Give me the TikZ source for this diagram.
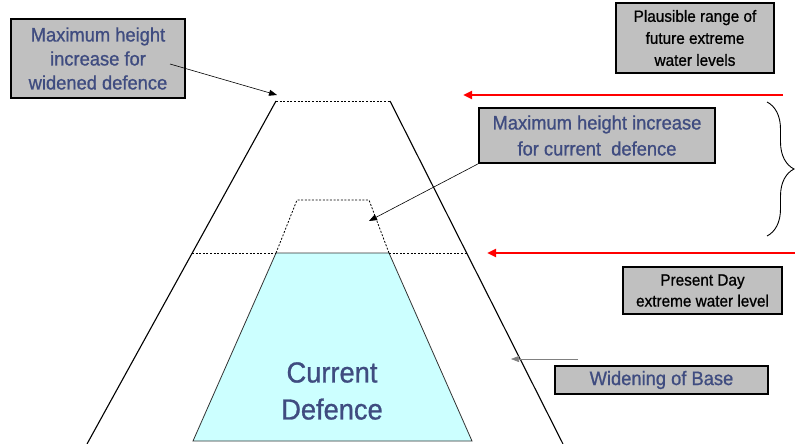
\documentclass[tikz,border=0pt]{standalone}
\usepackage{fontspec}
\setmainfont{Liberation Sans}
\newfontfamily\condfont[FakeStretch=0.94,FakeBold=0.9]{Liberation Sans}
\usetikzlibrary{arrows.meta,decorations.pathreplacing}
\definecolor{txtblue}{HTML}{3F4C80}
\definecolor{boxgray}{HTML}{C0C0C0}
\definecolor{cyanfill}{HTML}{CCFFFF}
\tikzset{
  labelbox/.style={draw=black, line width=1.5pt, fill=boxgray, inner sep=0pt, align=center},
  bluetext/.style={text=txtblue, font=\condfont\fontsize{19.5}{24}\selectfont},
  blacktext/.style={text=black, font=\condfont\fontsize{16.3}{22}\selectfont},
  dashline/.style={line width=0.8pt, dash pattern=on 2pt off 1.6pt},
  wall/.style={line width=1.1pt},
  pointer/.style={line width=0.6pt, -{Triangle[length=8pt,width=6pt]}},
  redarrow/.style={draw=red, line width=2.6pt, -{Triangle[length=9pt,width=8pt]}}
}
\begin{document}
\begin{tikzpicture}[x=1pt,y=-1pt]
\useasboundingbox (0,0) rectangle (795,444);
% widened defence
\coordinate (wbl) at (87,444);
\coordinate (wtl) at (276,101);
\coordinate (wtr) at (390,101);
\coordinate (wbr) at (563,444);
\draw[wall] (wbl) -- (wtl);
\draw[wall] (wtr) -- (wbr);
\draw[dashline] (wtl) -- (wtr);
% current defence
\coordinate (cbl) at (193,441);
\coordinate (ctl) at (276,253);
\coordinate (ctr) at (389,253);
\coordinate (cbr) at (472,441);
\draw[fill=cyanfill, draw=black!80, line width=0.8pt] (cbl) -- (ctl) -- (ctr) -- (cbr) -- cycle;
\node[text=txtblue, font=\condfont\fontsize{29}{37}\selectfont, align=center] (cur) at (332,391) {Current\\Defence};
% dashed cap and water line
\coordinate (capl) at (297,200);
\coordinate (capr) at (369,200);
\draw[dashline] (ctl) -- (capl) -- (capr) -- (ctr);
\coordinate (wll) at (192,253);
\coordinate (wlr) at (467,253);
\draw[dashline] (wll) -- (ctl);
\draw[dashline] (ctr) -- (wlr);
% boxes
\node[labelbox, bluetext, minimum width=174pt, minimum height=79pt] (b1) at (98,58.5) {Maximum height\\increase for\\widened defence};
\node[labelbox, blacktext, minimum width=158pt, minimum height=70pt] (b2) at (695,38) {Plausible range of\\future extreme\\water levels};
\node[labelbox, bluetext, font=\condfont\fontsize{19.5}{26}\selectfont, minimum width=236pt, minimum height=55pt] (b3) at (597,135.5) {Maximum height increase\\for current\ \ defence};
\node[labelbox, blacktext, font=\condfont\fontsize{16.3}{21}\selectfont, minimum width=159pt, minimum height=47pt] (b4) at (702.5,290.5) {Present Day\\extreme water level};
\node[labelbox, bluetext, minimum width=213pt, minimum height=28pt] (b5) at (661.5,380) {Widening of Base};
% pointers
\coordinate (p1s) at (170,64);
\coordinate (p1e) at (277,95);
\draw[pointer] (p1s) -- (p1e);
\coordinate (p3e) at (369,221);
\draw[pointer] (b3.south west) -- (p3e);
\coordinate (p5s) at (578,359);
\coordinate (p5e) at (511,359);
\draw[pointer, draw=black!50] (p5s) -- (p5e);
% red arrows
\coordinate (r1s) at (783,95);
\coordinate (r1e) at (463,95);
\draw[redarrow] (r1s) -- (r1e);
\coordinate (r2s) at (797,253);
\coordinate (r2e) at (487,253);
\draw[redarrow] (r2s) -- (r2e);
% brace
\coordinate (brt) at (767,102);
\coordinate (brb) at (767,236);
\draw[line width=0.9pt, decorate, decoration={brace, amplitude=27pt, aspect=0.5}] (brt) -- (brb);
\end{tikzpicture}
\end{document}
